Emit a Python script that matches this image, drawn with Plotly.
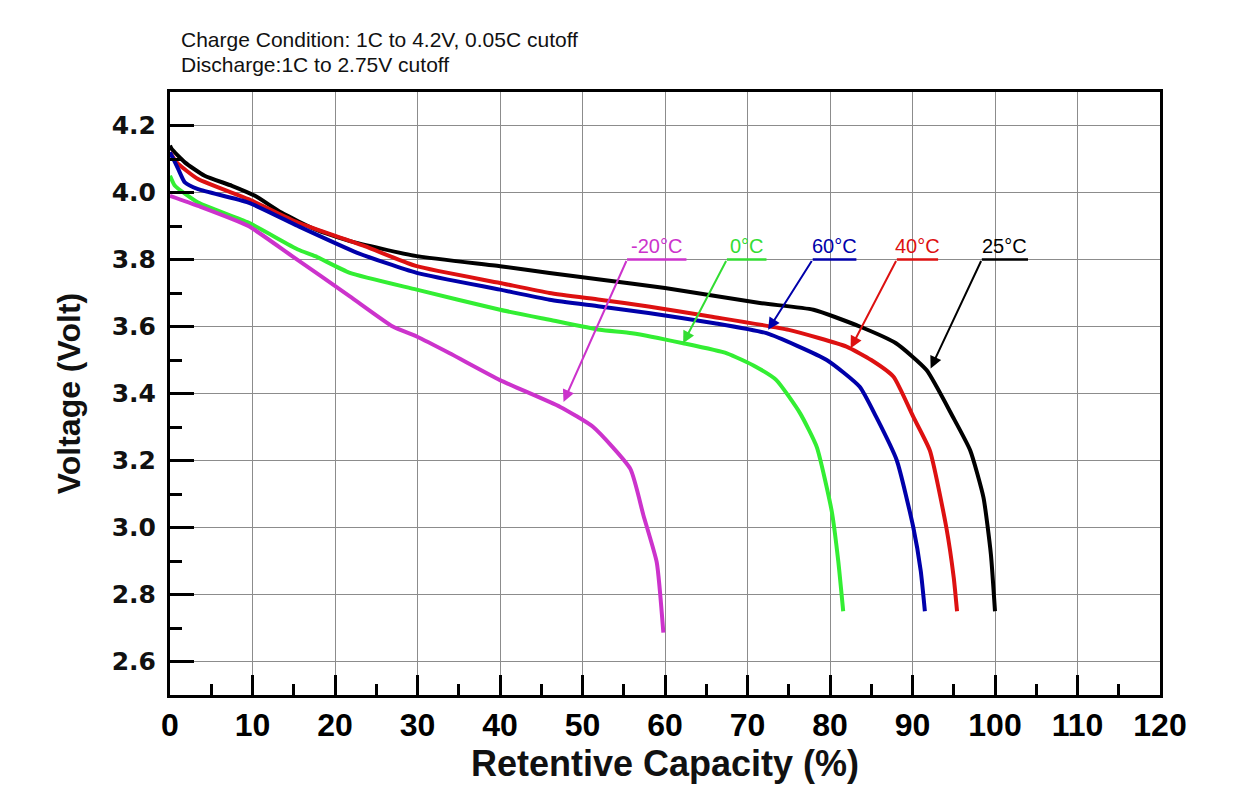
import plotly.graph_objects as go

# ---- data ----
x_25 = [0, 0.2, 1.8, 4.2, 7.5, 10.3, 13.5, 17.6, 21.8, 29.9, 40, 46, 52.1, 60, 71.5, 78, 83.6, 88, 91.7, 94.9, 97, 98.6, 99.5, 100]
v_25 = [4.14, 4.13, 4.09, 4.05, 4.02, 3.99, 3.94, 3.89, 3.855, 3.81, 3.78, 3.76, 3.74, 3.715, 3.67, 3.65, 3.60, 3.55, 3.47, 3.33, 3.23, 3.09, 2.92, 2.75]

x_40 = [0, 0.8, 3.4, 9.5, 15.5, 23.6, 29.9, 40, 46, 52.1, 58, 65.5, 75, 82, 85, 87.7, 90.1, 92.1, 94.1, 95, 95.4]
v_40 = [4.12, 4.09, 4.04, 3.98, 3.91, 3.84, 3.78, 3.73, 3.70, 3.68, 3.66, 3.63, 3.59, 3.54, 3.50, 3.45, 3.33, 3.23, 3.00, 2.85, 2.75]

x_60 = [0, 0.2, 1.0, 1.8, 3.4, 9.5, 15.5, 22.7, 29.9, 40, 46, 52.1, 58, 66, 72.3, 79.6, 83.6, 85.6, 88.1, 90.1, 91, 91.5]
v_60 = [4.12, 4.11, 4.07, 4.03, 4.01, 3.97, 3.90, 3.82, 3.76, 3.71, 3.68, 3.66, 3.64, 3.61, 3.58, 3.50, 3.42, 3.33, 3.20, 3.00, 2.87, 2.75]

x_0 = [0, 0.6, 3.4, 9.5, 15.5, 17.6, 21.8, 29.9, 40, 46, 52.1, 56, 62.2, 67.5, 71, 73.5, 76.4, 78.4, 80.2, 81, 81.6]
v_0 = [4.05, 4.02, 3.97, 3.91, 3.83, 3.81, 3.76, 3.71, 3.65, 3.62, 3.59, 3.58, 3.55, 3.52, 3.48, 3.44, 3.34, 3.24, 3.05, 2.90, 2.75]

x_m20 = [0, 3.4, 9.5, 14.8, 21.8, 27, 29.9, 33.9, 40, 47.3, 51.3, 55.8, 57.4, 59, 59.8]
v_m20 = [3.99, 3.96, 3.90, 3.81, 3.69, 3.60, 3.57, 3.52, 3.44, 3.36, 3.30, 3.175, 3.035, 2.896, 2.686]

series_names = ["25°C", "40°C", "60°C", "0°C", "-20°C"]
series_x = [x_25, x_40, x_60, x_0, x_m20]
series_v = [v_25, v_40, v_60, v_0, v_m20]
colors = ["#000000", "#dd1111", "#0000aa", "#33ee33", "#cc33cc"]

# label callouts: horizontal segment start/end, arrow head on curve
label_names = ["-20°C", "0°C", "60°C", "40°C", "25°C"]
label_colors = ["#cc33cc", "#33dd33", "#0000aa", "#dd1111", "#000000"]
label_x0 = [55.4, 67.5, 77.9, 88.1, 98.4]
label_x1 = [62.6, 72.3, 83.2, 93.1, 104.0]
label_y = [3.8, 3.8, 3.8, 3.8, 3.8]
head_x = [47.7, 62.2, 72.5, 82.5, 92.2]
head_y = [3.375, 3.55, 3.59, 3.535, 3.475]

header_lines = ["Charge Condition: 1C to 4.2V, 0.05C cutoff", "Discharge:1C to 2.75V cutoff"]

x_ticks = list(range(0, 121, 10))
y_ticks = [2.6, 2.8, 3.0, 3.2, 3.4, 3.6, 3.8, 4.0, 4.2]

fig = go.Figure()
for name, xs, vs, c in zip(series_names, series_x, series_v, colors):
    fig.add_trace(go.Scatter(x=xs, y=vs, mode="lines", name=name,
                             line=dict(color=c, width=4, shape="spline", smoothing=0.5)))

annotations = []
shapes = []
for n, c, x0, x1, ly, hx, hy in zip(label_names, label_colors, label_x0, label_x1, label_y, head_x, head_y):
    shapes.append(dict(type="line", xref="x", yref="y", x0=x0, x1=x1, y0=ly, y1=ly,
                       line=dict(color=c, width=2.5)))
    annotations.append(dict(x=hx, y=hy, ax=x0, ay=ly, xref="x", yref="y", axref="x", ayref="y",
                            text="", showarrow=True, arrowhead=2, arrowsize=1.2, arrowwidth=2,
                            arrowcolor=c, standoff=0, startstandoff=0))
    annotations.append(dict(x=(x0 + x1) / 2, y=ly, xref="x", yref="y", text=n, showarrow=False,
                            yanchor="bottom", yshift=1,
                            font=dict(family="Liberation Sans, Arial", size=20, color=c)))

for txt, yp in zip(header_lines, [1.0875, 1.0455]):
    annotations.append(dict(x=0.0101, y=yp, xref="paper", yref="paper", xanchor="left", yanchor="middle",
                            text=txt, showarrow=False, borderpad=0,
                            font=dict(family="Liberation Sans, Arial", size=21, color="#111111")))

fig.update_layout(
    width=1241, height=807,
    margin=dict(l=162, r=89, t=84, b=120),
    plot_bgcolor="white", paper_bgcolor="white",
    showlegend=False,
    annotations=annotations, shapes=shapes,
)
fig.update_xaxes(
    range=[0, 120], tickvals=x_ticks, ticktext=[str(t) for t in x_ticks],
    showgrid=True, gridcolor="#8c8c8c", gridwidth=1,
    showline=True, linecolor="black", linewidth=3, mirror=True,
    ticks="inside", ticklen=20, tickwidth=3, tickcolor="black",
    minor=dict(dtick=5, ticks="inside", ticklen=11, tickwidth=3, tickcolor="black", showgrid=False),
    tickfont=dict(family="Liberation Sans Narrow, Liberation Sans, Arial", size=32, color="black", weight="bold"),
    title=dict(text="Retentive Capacity (%)", standoff=8,
               font=dict(family="Liberation Sans, Arial", size=36, color="#111111", weight="bold")),
    zeroline=False,
)
fig.update_yaxes(
    range=[2.5, 4.3], tickvals=y_ticks, ticktext=[f"{t:.1f}" for t in y_ticks],
    showgrid=True, gridcolor="#8c8c8c", gridwidth=1,
    showline=True, linecolor="black", linewidth=3, mirror=True,
    ticks="inside", ticklen=24, tickwidth=3, tickcolor="black",
    ticklabelstandoff=6,
    minor=dict(dtick=0.1, tick0=2.5, ticks="inside", ticklen=12, tickwidth=3, tickcolor="black", showgrid=False),
    tickfont=dict(family="DejaVu Sans, Liberation Sans", size=25, color="#111111", weight="bold"),
    title=dict(text="Voltage (Volt)", standoff=22,
               font=dict(family="Liberation Sans, Arial", size=32, color="#111111", weight="bold")),
    zeroline=False,
)

fig.write_html("out.html")
